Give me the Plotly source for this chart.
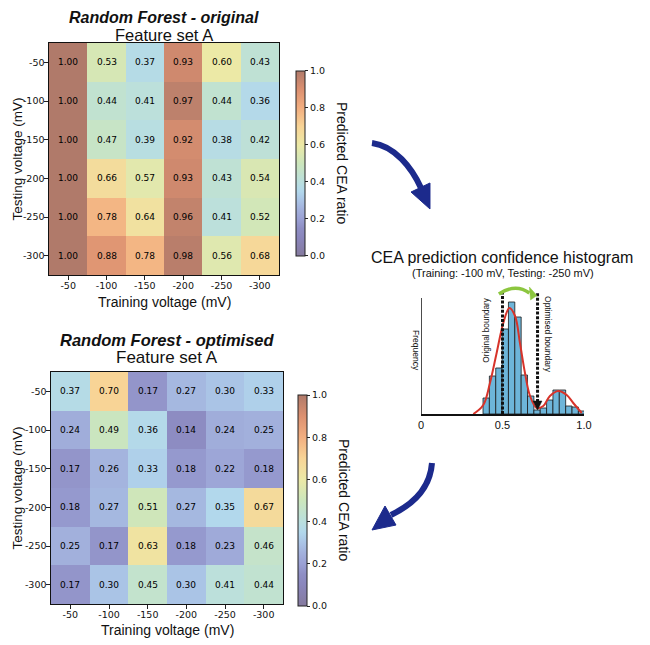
import plotly.graph_objects as go

# ---- data ----
training_v = ["-50", "-100", "-150", "-200", "-250", "-300"]
testing_v = ["-50", "-100", "-150", "-200", "-250", "-300"]

rf_original = [
    [1.00, 0.53, 0.37, 0.93, 0.60, 0.43],
    [1.00, 0.44, 0.41, 0.97, 0.44, 0.36],
    [1.00, 0.47, 0.39, 0.92, 0.38, 0.42],
    [1.00, 0.66, 0.57, 0.93, 0.43, 0.54],
    [1.00, 0.78, 0.64, 0.96, 0.41, 0.52],
    [1.00, 0.88, 0.78, 0.98, 0.56, 0.68],
]
rf_optimised = [
    [0.37, 0.70, 0.17, 0.27, 0.30, 0.33],
    [0.24, 0.49, 0.36, 0.14, 0.24, 0.25],
    [0.17, 0.26, 0.33, 0.18, 0.22, 0.18],
    [0.18, 0.27, 0.51, 0.27, 0.35, 0.67],
    [0.25, 0.17, 0.63, 0.18, 0.23, 0.46],
    [0.17, 0.30, 0.45, 0.30, 0.41, 0.44],
]

# histogram (Training -100 mV, Testing -250 mV)
hist_centers = [0.400, 0.439, 0.478, 0.517, 0.556, 0.595, 0.634, 0.673,
                0.712, 0.751, 0.790, 0.829, 0.868, 0.907, 0.946, 0.985]
hist_counts = [16, 38, 46, 85, 112, 97, 39, 18, 4, 6, 14, 24, 24, 8, 7, 3]
kde_x = [0.321, 0.382, 0.423, 0.464, 0.505, 0.542, 0.577, 0.607, 0.638,
         0.669, 0.710, 0.750, 0.791, 0.842, 0.894, 0.934, 0.986]
kde_y = [0, 9, 31, 61, 91, 106, 98, 71, 41, 18, 6, 8, 18, 23, 19, 11, 1]
original_boundary = 0.5
optimised_boundary = 0.715

W, H = 650, 645
OFF = 8  # the page body adds an 8px margin, so shift everything back
ARIAL = "Liberation Sans, Arial, sans-serif"
DEJAVU = "DejaVu Sans, sans-serif"

# muted colormap sampled from the colourbar
cscale = [
    [0.00, "#857a9e"], [0.10, "#8a86bc"], [0.15, "#8e8ec4"], [0.20, "#9aa0d4"],
    [0.25, "#a2b0dc"], [0.30, "#aac4e6"], [0.35, "#b2d8ec"], [0.40, "#badfde"],
    [0.50, "#cce6bc"], [0.60, "#ece9a6"], [0.70, "#f8d496"], [0.80, "#f2ae80"],
    [0.90, "#dc9070"], [1.00, "#b07a6a"],
]


def px(x):
    return (x - OFF) / W


def py(y):
    return 1 - (y - OFF) / H


def ppath(pts, close=False, curve=None):
    # screen pixel points -> paper path string
    s = "M %.4f,%.4f" % (px(pts[0][0]), py(pts[0][1]))
    if curve == "C":
        s += " C " + " ".join("%.4f,%.4f" % (px(a), py(b)) for a, b in pts[1:])
    else:
        for a, b in pts[1:]:
            s += " L %.4f,%.4f" % (px(a), py(b))
    if close:
        s += " Z"
    return s


fig = go.Figure()

boxes = {
    1: dict(x0=49, x1=279, y0=43, y1=275, cb_x=296, cb_y0=70.7, cb_y1=256),
    2: dict(x0=51, x1=283, y0=372, y1=604, cb_x=298, cb_y0=395, cb_y1=606),
}

for i, z in [(1, rf_original), (2, rf_optimised)]:
    b = boxes[i]
    fig.add_trace(go.Heatmap(
        z=z, x=training_v, y=testing_v,
        xaxis="x" if i == 1 else "x2", yaxis="y" if i == 1 else "y2",
        colorscale=cscale, zmin=0, zmax=1,
        texttemplate="%{z:.2f}", textfont=dict(family=DEJAVU, size=9, color="#000"),
        hoverinfo="skip",
        colorbar=dict(
            x=px(b["cb_x"]), xanchor="left", thickness=9, xpad=0, ypad=0,
            y=py((b["cb_y0"] + b["cb_y1"]) / 2), yanchor="middle",
            len=(b["cb_y1"] - b["cb_y0"]) / H, lenmode="fraction",
            outlinewidth=1, outlinecolor="#222",
            tickvals=[0, 0.2, 0.4, 0.6, 0.8, 1.0],
            ticktext=["0.0", "0.2", "0.4", "0.6", "0.8", "1.0"],
            ticks="outside", ticklen=3, tickcolor="#222",
            tickfont=dict(family=DEJAVU, size=9.5, color="#111"),
        ),
    ))

# histogram
bar_w = hist_centers[1] - hist_centers[0]
fig.add_trace(go.Bar(
    x=hist_centers, y=hist_counts, width=bar_w, xaxis="x3", yaxis="y3",
    marker=dict(color="#6db5d9", line=dict(color="#1a1a1a", width=0.8)),
    hoverinfo="skip", showlegend=False,
))
fig.add_trace(go.Scatter(
    x=kde_x, y=kde_y, mode="lines", xaxis="x3", yaxis="y3",
    line=dict(color="#d7332a", width=2, shape="spline", smoothing=1.0),
    hoverinfo="skip", showlegend=False, cliponaxis=False,
))

axis_common = dict(
    type="category", showline=True, linecolor="#111", linewidth=1.2, mirror=True,
    ticks="outside", ticklen=3.5, tickcolor="#222", showgrid=False, zeroline=False,
    automargin=False, ticklabelstandoff=-2,
    tickfont=dict(family=DEJAVU, size=9.5, color="#111"),
)
b1, b2 = boxes[1], boxes[2]
fig.update_layout(
    width=W, height=H, margin=dict(l=0, r=0, t=0, b=0),
    paper_bgcolor="white", plot_bgcolor="white", showlegend=False,
    xaxis=dict(domain=[px(b1["x0"]), px(b1["x1"])], anchor="y", **axis_common),
    yaxis=dict(domain=[py(b1["y1"]), py(b1["y0"])], anchor="x",
               autorange="reversed", **axis_common),
    xaxis2=dict(domain=[px(b2["x0"]), px(b2["x1"])], anchor="y2", **axis_common),
    yaxis2=dict(domain=[py(b2["y1"]), py(b2["y0"])], anchor="x2",
                autorange="reversed", **axis_common),
    xaxis3=dict(domain=[px(421), px(584)], anchor="y3", range=[0, 1.0],
                showline=True, linecolor="#111", linewidth=1.5, ticks="",
                tickvals=[0, 0.5, 1.0], ticktext=["0", "0.5", "1.0"],
                tickfont=dict(family=ARIAL, size=11, color="#111"),
                showgrid=False, zeroline=False, automargin=False),
    yaxis3=dict(domain=[py(414), py(286)], anchor="x3", range=[0, 128],
                showline=False, showticklabels=False, ticks="",
                showgrid=False, zeroline=False, automargin=False),
)

ann = []


def text(x, y, s, size, angle=0, font=ARIAL, color="#111", ref="paper"):
    if ref == "paper":
        d = dict(x=px(x), y=py(y), xref="paper", yref="paper")
    else:
        d = dict(x=x, y=y, xref="x3", yref="y3")
    ann.append(dict(text=s, showarrow=False, textangle=angle, xanchor="center",
                    yanchor="middle", borderpad=0,
                    font=dict(family=font, size=size, color=color), **d))


# heatmap titles / axis titles
text(164, 17.5, "<b><i>Random Forest - original</i></b>", 16)
text(164, 35.5, "Feature set A", 16.5)
text(164, 302, "Training voltage (mV)", 14)
text(16.5, 159, "Testing voltage (mV)", 13.5, angle=-90)
text(342, 163, "Predicted CEA ratio", 14, angle=90)

text(167, 340, "<b><i>Random Forest - optimised</i></b>", 16.5)
text(167, 357.5, "Feature set A", 17)
text(167, 630, "Training voltage (mV)", 14)
text(16.5, 488, "Testing voltage (mV)", 13.5, angle=-90)
text(344, 500, "Predicted CEA ratio", 14, angle=90)

# histogram texts
text(502, 257, "CEA prediction confidence histogram", 16)
text(503, 273.5, "(Training: -100 mV, Testing: -250 mV)", 11)
text(416, 350, "Frequency", 8.5, angle=90)
text(0.397, 84, "Original boundary", 8.2, angle=-90, ref="data")
text(0.779, 79, "Optimised boundary", 8.5, angle=90, ref="data")

shapes = []
# histogram y-axis line
shapes.append(dict(type="line", xref="x3", yref="y3", x0=0, x1=0, y0=0, y1=116,
                   line=dict(color="#111", width=1.5)))
# boundaries
shapes.append(dict(type="line", xref="x3", yref="y3", x0=original_boundary,
                   x1=original_boundary, y0=0, y1=121,
                   line=dict(color="#111", width=3, dash="3px,1.6px")))
shapes.append(dict(type="line", xref="x3", yref="y3", x0=optimised_boundary,
                   x1=optimised_boundary, y0=12, y1=121,
                   line=dict(color="#111", width=3, dash="3px,1.6px")))
ob = optimised_boundary
shapes.append(dict(type="path", xref="x3", yref="y3",
                   path="M %.3f,13 L %.3f,13 L %.3f,4 Z" % (ob - 0.027, ob + 0.027, ob),
                   fillcolor="#111", line=dict(color="#111", width=0.5)))
# green shift arrow
shapes.append(dict(type="path", xref="x3", yref="y3",
                   path="M %.3f,120 Q 0.58,131 %.3f,121" % (original_boundary - 0.022, ob - 0.05),
                   line=dict(color="#8cc63f", width=3.5)))
shapes.append(dict(type="path", xref="x3", yref="y3",
                   path="M %.3f,127 L %.3f,114 L %.3f,118.5 Z" % (ob - 0.05, ob - 0.043, ob - 0.004),
                   fillcolor="#8cc63f", line=dict(color="#8cc63f", width=0.5)))

# blue curved arrows between panels
navy = "#1c2a8c"
shapes.append(dict(type="path", xref="paper", yref="paper",
                   path=ppath([(372, 143), (395, 146), (412, 168), (421, 188)], curve="C"),
                   line=dict(color=navy, width=6)))
shapes.append(dict(type="path", xref="paper", yref="paper",
                   path=ppath([(430, 183), (411, 192), (430, 209)], close=True),
                   fillcolor=navy, line=dict(color=navy, width=1)))
shapes.append(dict(type="path", xref="paper", yref="paper",
                   path=ppath([(432, 463), (430, 490), (412, 505), (391, 515)], curve="C"),
                   line=dict(color=navy, width=6)))
shapes.append(dict(type="path", xref="paper", yref="paper",
                   path=ppath([(385, 506), (396, 525), (372, 530)], close=True),
                   fillcolor=navy, line=dict(color=navy, width=1)))

fig.update_layout(annotations=ann, shapes=shapes)
fig.write_html("out.html")
